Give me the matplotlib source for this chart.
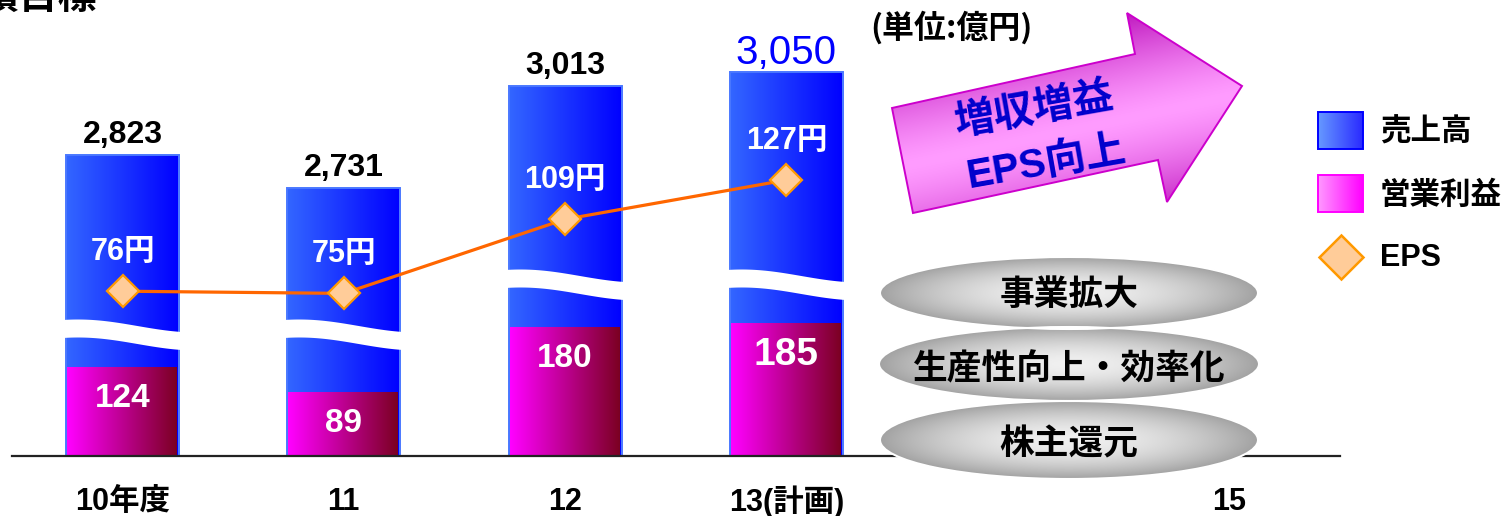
import numpy as np
import matplotlib
matplotlib.use("Agg")
import matplotlib.pyplot as plt
from matplotlib.patches import Polygon, Ellipse, Rectangle
from matplotlib.colors import to_rgb

# ---- data -------------------------------------------------------------
categories = ["10年度", "11", "12", "13(計画)", "", "15"]
sales = [2823, 2731, 3013, 3050]          # 売上高（億円）
op_profit = [124, 89, 180, 185]           # 営業利益（億円）
eps = [76, 75, 109, 127]                  # EPS（円）
pillars = ["事業拡大", "生産性向上・効率化", "株主還元"]
legend_labels = ["売上高", "営業利益", "EPS"]
slogan = ["増収増益", "EPS向上"]
unit_label = "(単位:億円)"
title = "業績目標"

# ---- fonts / figure ---------------------------------------------------
CJK = ["Noto Sans CJK JP", "DejaVu Sans"]
NUM = ["Liberation Sans", "Noto Sans CJK JP", "DejaVu Sans"]
W, H = 1508, 516
fig = plt.figure(figsize=(W / 100, H / 100), dpi=100)
fig.patch.set_facecolor("white")
ax = fig.add_axes([0, 0, 1, 1])
ax.axis("off")

# ---- broken value scale: operating profit below, sales above ---------
LO_TOP, HI_BOT = 250.0, 2500.0
K_LO, K_HI = 0.716, 0.364
H_LO = LO_TOP * K_LO
H_HI = 183.0
K_MID = (H_HI - H_LO) / (HI_BOT - LO_TOP)


def fwd(v):
    v = np.asarray(v, float)
    return np.where(v <= LO_TOP, v * K_LO,
                    np.where(v >= HI_BOT, H_HI + (v - HI_BOT) * K_HI,
                             H_LO + (v - LO_TOP) * K_MID))


def inv(h):
    h = np.asarray(h, float)
    return np.where(h <= H_LO, h / K_LO,
                    np.where(h >= H_HI, HI_BOT + (h - H_HI) / K_HI,
                             LO_TOP + (h - H_LO) / K_MID))


ax.set_yscale("function", functions=(fwd, inv))
BASE_ROW = 455.5
STEP, X0 = 221.3, 122.5
XLIM = (-X0 / STEP, (W - X0) / STEP)
YLIM = (float(inv(BASE_ROW - H)), float(inv(BASE_ROW)))


def hgrad(c0, c1, n=256):
    a = np.linspace(0, 1, n)[None, :, None]
    g = (1 - a) * np.array(to_rgb(c0)) + a * np.array(to_rgb(c1))
    return np.repeat(g, 2, axis=0)


x = np.arange(len(sales))
BAR_W = 0.51

sales_bars = ax.bar(x, sales, width=BAR_W, facecolor="none",
                    edgecolor="#4a78ff", linewidth=1.4, zorder=5)
profit_bars = ax.bar(x, op_profit, width=BAR_W - 0.01, facecolor="none",
                     edgecolor="none", zorder=4)

for rect in sales_bars:
    im = ax.imshow(hgrad("#3366ff", "#0000ff"),
                   extent=[rect.get_x(), rect.get_x() + rect.get_width(),
                           0, rect.get_height()],
                   aspect="auto", interpolation="bilinear", zorder=2)
    im.set_clip_path(rect)
for rect in profit_bars:
    im = ax.imshow(hgrad("#ff00ff", "#7a0020"),
                   extent=[rect.get_x(), rect.get_x() + rect.get_width(),
                           0, rect.get_height()],
                   aspect="auto", interpolation="bilinear", zorder=3)
    im.set_clip_path(rect)

# baseline
ax.axhline(0, xmin=12 / W, xmax=1340 / W, color="#222222", lw=1.6, zorder=6)

# sales labels above bars (plan year highlighted)
for i, v in enumerate(sales):
    plan = i == len(sales) - 1
    ax.annotate(f"{v:,}", (x[i], v), xytext=(0, 8 if plan else 12),
                textcoords="offset pixels", ha="center", va="baseline",
                fontsize=29 if plan else 23,
                weight="normal" if plan else "bold",
                color="#0000ff" if plan else "black", family=NUM, zorder=7)

# operating profit labels inside bars
for i, v in enumerate(op_profit):
    plan = i == len(op_profit) - 1
    ax.annotate(f"{v}", (x[i], v), xytext=(0, -32),
                textcoords="offset pixels", ha="center", va="center",
                fontsize=28 if plan else 24, weight="bold", color="white",
                family=NUM, zorder=7)

# category labels
for i, lab in enumerate(categories):
    if lab:
        ax.text(i, (H - 502) / H, lab, transform=ax.get_xaxis_transform(),
                ha="center", va="center", fontsize=22, weight="bold",
                family=NUM)

ax.set_xlim(*XLIM)
ax.set_ylim(*YLIM)

# ---- EPS line on its own scale ---------------------------------------
ax2 = ax.twinx()
ax2.axis("off")
EPS_REF, EPS_ROW, EPS_K = 75.5, 292.3, 2.18
ax2.set_ylim(EPS_REF - (H - EPS_ROW) / EPS_K, EPS_REF + EPS_ROW / EPS_K)
ax2.plot(x, eps, color="#ff6600", lw=2.3, marker="D", ms=16.5,
         mfc="#ffcc99", mec="#ff9900", mew=1.6, zorder=5)
for i, v in enumerate(eps):
    ax2.annotate(f"{v}円", (x[i], v), xytext=(0, 39),
                 textcoords="offset pixels", ha="center", va="center",
                 fontsize=22, weight="bold", color="white", family=NUM)
ax2.set_xlim(*XLIM)

# ---- overlay in pixel units for decorations ---------------------------
ov = fig.add_axes([0, 0, 1, 1], zorder=10)
ov.set_xlim(0, W)
ov.set_ylim(H, 0)
ov.axis("off")

# wavy breaks across the sales bars
break_top_rows = [320, 320, 270, 270]
t = np.linspace(0, 1, 80)
for i, rect in enumerate(sales_bars):
    (lx, _), (rx, _) = ax.transData.transform(
        [(rect.get_x(), 0), (rect.get_x() + rect.get_width(), 0)])
    xs = lx - 3 + (rx - lx + 6) * t
    top = break_top_rows[i] + 6 * (1 - np.cos(np.pi * t)) - 2.5 * np.sin(np.pi * t)
    bot = top + 18
    pts = np.column_stack([np.r_[xs, xs[::-1]], np.r_[top, bot[::-1]]])
    ov.add_patch(Polygon(pts, closed=True, facecolor="white",
                         edgecolor="none", zorder=2))

# arrow
arrow_pts = np.array([(892, 108), (1135, 54), (1127, 13), (1242, 86),
                      (1167, 202), (1158, 160), (913, 213)])
ax0, ax1_, ay0, ay1 = 880, 1250, 5, 222
gx, gy = np.meshgrid(np.linspace(ax0, ax1_, 300), np.linspace(ay0, ay1, 200))
ang = np.deg2rad(12)
d = (gx - 1242) * np.sin(ang) + (gy - 86) * np.cos(ang)
tt = np.clip(np.abs(d - 8) / 100, 0, 1) ** 1.4
c0, c1 = np.array(to_rgb("#ff9cff")), np.array(to_rgb("#c21fc2"))
arr_img = (1 - tt)[..., None] * c0 + tt[..., None] * c1
arrow_patch = Polygon(arrow_pts, closed=True, facecolor="none",
                      edgecolor="#cc00cc", lw=1.4, zorder=4)
ov.add_patch(arrow_patch)
im = ov.imshow(arr_img, extent=(ax0, ax1_, ay1, ay0), origin="upper",
               aspect="auto", interpolation="bilinear", zorder=3)
im.set_clip_path(arrow_patch)
ov.text(1034, 110, slogan[0], rotation=10, ha="center", va="center",
        rotation_mode="anchor", fontsize=29, weight="bold", color="#0000cc",
        family=CJK, zorder=5)
ov.text(1046, 163, slogan[1], rotation=10, ha="center", va="center",
        rotation_mode="anchor", fontsize=29, weight="bold", color="#0000cc",
        family=NUM, zorder=5)

# gray ellipses with the three pillars
ell_centers = [(1069, 293), (1069, 364), (1069, 440)]
ell_sizes = [(378, 72), (380, 74), (378, 78)]
text_rows = [294, 369, 444]
for (cx, cy), (ew, eh), ty, lab in zip(ell_centers, ell_sizes, text_rows, pillars):
    e = Ellipse((cx, cy), ew, eh, facecolor="none", edgecolor="white",
                lw=1.5, zorder=7)
    ov.add_patch(e)
    ex, ey = np.meshgrid(np.linspace(cx - ew / 2, cx + ew / 2, 300),
                         np.linspace(cy - eh / 2, cy + eh / 2, 120))
    r = np.sqrt(((ex - cx) / (ew / 2)) ** 2 + ((ey - cy) / (eh / 2)) ** 2)
    tr = np.clip(r, 0, 1) ** 1.8
    g0, g1 = np.array(to_rgb("#f0f0f0")), np.array(to_rgb("#a2a2a2"))
    img = (1 - tr)[..., None] * g0 + tr[..., None] * g1
    im = ov.imshow(img, extent=(cx - ew / 2, cx + ew / 2, cy + eh / 2, cy - eh / 2),
                   origin="upper", aspect="auto", interpolation="bilinear",
                   zorder=6)
    im.set_clip_path(e)
    ov.text(cx, ty, lab, ha="center", va="center", fontsize=25,
            weight="bold", color="black", family=CJK, zorder=8)

# legend
legend_boxes = [((1318, 112), ("#6699ff", "#2a2aff"), "#0000ff"),
                ((1318, 175), ("#ff99ff", "#ff00ff"), "#ff00ff")]
for (bx, by), (lc, rc), ec in legend_boxes:
    box = Rectangle((bx, by), 45, 37, facecolor="none", edgecolor=ec,
                    lw=1.4, zorder=5)
    ov.add_patch(box)
    im = ov.imshow(hgrad(lc, rc), extent=(bx, bx + 45, by + 37, by),
                   aspect="auto", interpolation="bilinear", zorder=4)
    im.set_clip_path(box)
ov.plot([1341], [257], marker="D", ms=22, mfc="#ffcc99", mec="#ff9900",
        mew=1.8, ls="none", zorder=5)
for row, lab in zip([133, 196, 258], legend_labels):
    ov.text(1380, row, lab, ha="left", va="center", fontsize=22,
            weight="bold", family=NUM, zorder=5)

ov.text(870, 28, unit_label, ha="left", va="center", fontsize=23,
        weight="bold", family=CJK)
ov.text(97, -3, title, ha="right", va="center", fontsize=28,
        weight="bold", family=CJK)

ov.set_xlim(0, W)
ov.set_ylim(H, 0)

fig.savefig("out.png", dpi=100, facecolor="white")
